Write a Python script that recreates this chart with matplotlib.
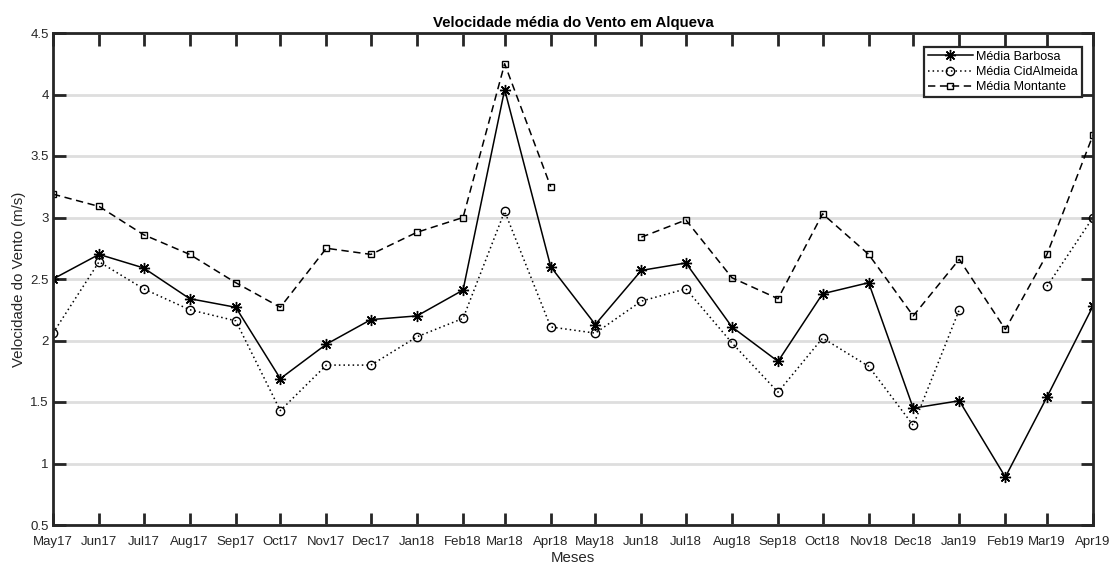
import matplotlib
matplotlib.use("Agg")
import matplotlib.pyplot as plt
import numpy as np
import pandas as pd
from matplotlib.ticker import FuncFormatter, MultipleLocator

plt.rcParams['font.family'] = ['Liberation Sans', 'DejaVu Sans']

months = ["May17", "Jun17", "Jul17", "Aug17", "Sep17", "Oct17", "Nov17", "Dec17",
          "Jan18", "Feb18", "Mar18", "Apr18", "May18", "Jun18", "Jul18", "Aug18",
          "Sep18", "Oct18", "Nov18", "Dec18", "Jan19", "Feb19", "Mar19", "Apr19"]

barbosa = [2.50, 2.70, 2.59, 2.34, 2.27, 1.69, 1.97, 2.17, 2.20, 2.41, 4.04, 2.60,
           2.13, 2.57, 2.63, 2.11, 1.83, 2.38, 2.47, 1.45, 1.51, 0.89, 1.54, 2.28]

cidalmeida = [2.06, 2.64, 2.42, 2.25, 2.16, 1.43, 1.80, 1.80, 2.03, 2.18, 3.05, 2.11,
              2.06, 2.32, 2.42, 1.98, 1.58, 2.02, 1.79, 1.31, 2.25, np.nan, 2.44, 3.00]

montante = [3.19, 3.09, 2.86, 2.70, 2.47, 2.27, 2.75, 2.70, 2.88, 3.00, 4.25, 3.25,
            np.nan, 2.84, 2.98, 2.51, 2.34, 3.03, 2.70, 2.20, 2.66, 2.09, 2.70, 3.67]

dates = pd.date_range("2017-05-01", periods=len(months), freq="MS")

W, H = 1112, 563
fig = plt.figure(figsize=(W / 100, H / 100), dpi=100)
ax_l, ax_r, ax_t, ax_b = 53, 1093, 33, 525
ax = fig.add_axes([ax_l / W, 1 - ax_b / H, (ax_r - ax_l) / W, (ax_b - ax_t) / H])

lw = 1.1
ax.plot(dates, barbosa, color='black', linestyle='-', linewidth=lw,
        marker=(8, 2, 0), markersize=8, markeredgewidth=1.0,
        label='Média Barbosa', zorder=4)
ax.plot(dates, cidalmeida, color='black', linestyle=(0, (1, 2)), linewidth=lw,
        marker='o', markersize=6, markerfacecolor='none', markeredgewidth=1.0,
        label='Média CidAlmeida', zorder=4)
ax.plot(dates, montante, color='black', linestyle=(0, (4.8, 3)), linewidth=lw,
        marker='s', markersize=5, markerfacecolor='none', markeredgewidth=1.0,
        label='Média Montante', zorder=4)

ax.set_xlim(dates[0], dates[-1])
ax.set_ylim(0.5, 4.5)
ax.set_xticks(dates)
ax.set_xticklabels(months)
ax.yaxis.set_major_locator(MultipleLocator(0.5))
ax.yaxis.set_major_formatter(FuncFormatter(lambda v, p: f"{v:g}"))

ax.grid(axis='y', color='#dedede', linewidth=2.0, zorder=0)
ax.grid(axis='x', visible=False)
ax.set_axisbelow(True)

for s in ax.spines.values():
    s.set_linewidth(2.0)
    s.set_color('#262626')
    s.set_zorder(5)

ax.tick_params(axis='both', which='major', direction='in', length=9, width=2.0,
               color='#262626', top=True, right=True, labelsize=9.5,
               labelcolor='#262626')
ax.tick_params(axis='x', pad=8)
ax.tick_params(axis='y', pad=3)

ax.set_title('Velocidade média do Vento em Alqueva', fontsize=10.8,
             fontweight='bold', pad=4)
ax.set_xlabel('Meses', fontsize=10.8, color='#262626', labelpad=2)
ax.set_ylabel('Velocidade do Vento (m/s)', fontsize=10.8, color='#262626', labelpad=3)

leg = ax.legend(loc='upper right',
                bbox_to_anchor=(1 - 11 / (ax_r - ax_l), 1 - 14 / (ax_b - ax_t)),
                borderaxespad=0, fontsize=9, handlelength=3.6, handletextpad=0.3,
                labelspacing=0.25, borderpad=0.3, fancybox=False, framealpha=1,
                edgecolor='#262626')
leg.get_frame().set_linewidth(1.6)

fig.savefig('out.png', dpi=100)
